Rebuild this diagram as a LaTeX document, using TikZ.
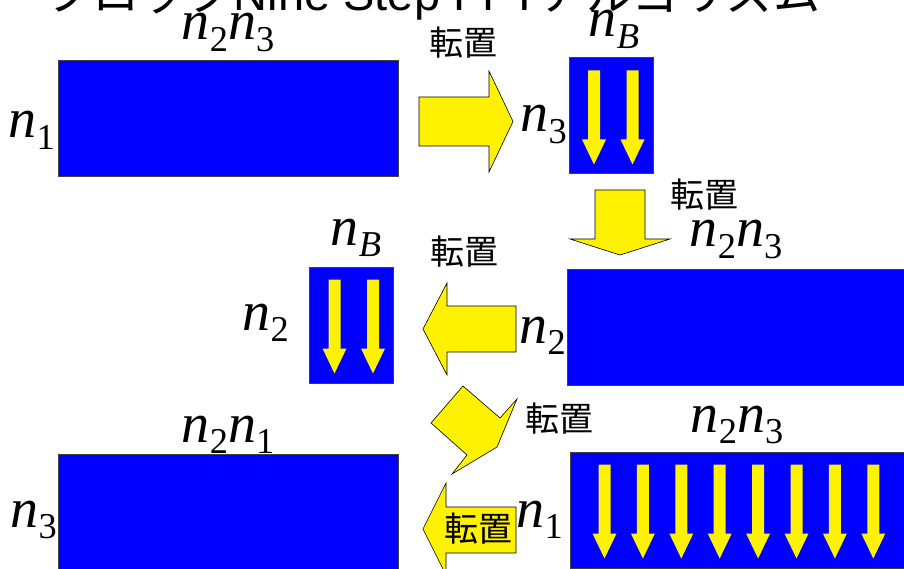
\documentclass[tikz,border=0pt]{standalone}
\usepackage{fontspec}
\setmainfont{Liberation Serif}
\newfontfamily\jpfont{Noto Sans CJK JP}
\newfontfamily\titlefont{Liberation Sans}
\usetikzlibrary{positioning}
\newcommand{\nsub}[1]{\textit{n}\raisebox{-0.21em}{\scalebox{0.65}{#1}}}
\tikzset{
  blkbox/.style={rectangle, draw=black!75, line width=1pt, fill=blue, inner sep=0pt,
                 minimum height=116pt},
  widebox/.style={blkbox, minimum width=340pt},
  narrowbox/.style={blkbox, minimum width=84pt},
  yarrow/.style={fill=yellow, draw=black, line width=0.6pt, line join=miter},
  dimlbl/.style={inner sep=0pt, font=\fontsize{56}{60}\selectfont},
  tplbl/.style={inner sep=0pt, font=\jpfont\fontsize{34}{40}\selectfont},
  colarrow/.pic={\fill[yellow] (-6,0) -- (6,0) -- (6,69) -- (12,69) -- (0,94) -- (-12,69) -- (-6,69) -- cycle;},
}
\begin{document}
\begin{tikzpicture}[x=1pt, y=-1pt]
  \path[use as bounding box] (0,0) rectangle (904,569);
  \clip (0,0) rectangle (904,569);
  \node[anchor=base, inner sep=0pt, font=\titlefont\fontsize{47}{50}\selectfont] (title) at (433,11)
    {{\jpfont ブロック}Nine Step FFT{\jpfont アルゴリズム}};
  \node[widebox]   (blkA) at (228,119)   {};
  \node[narrowbox] (blkB) at (611,116)   {};
  \node[widebox]   (blkC) at (737,327)   {};
  \node[narrowbox] (blkD) at (351.5,325) {};
  \node[widebox]   (blkE) at (740,510)   {};
  \node[widebox]   (blkF) at (228,512)   {};
  \foreach \dx in {25.5,64} {
    \pic at ([xshift=\dx pt, yshift=-13pt]blkB.north west) {colarrow};
    \pic at ([xshift=\dx pt, yshift=-13pt]blkD.north west) {colarrow};
  }
  \foreach \i in {0,...,7}
    \pic at ([xshift={35pt+38.4pt*\i}, yshift=-13pt]blkE.north west) {colarrow};
  \node[dimlbl, anchor=base]      (dimA) at (228,40)  {\nsub{2}\nsub{3}};
  \node[dimlbl, anchor=base east] (rowA) at (55,138)  {\nsub{1}};
  \node[dimlbl, anchor=base]      (dimB) at (614,37)  {\nsub{\textit{B}}};
  \node[dimlbl, anchor=base east] (rowB) at (567,132) {\nsub{3}};
  \node[dimlbl, anchor=base]      (dimC) at (736,247) {\nsub{2}\nsub{3}};
  \node[dimlbl, anchor=base east] (rowC) at (566,343) {\nsub{2}};
  \node[dimlbl, anchor=base]      (dimD) at (356,245) {\nsub{\textit{B}}};
  \node[dimlbl, anchor=base east] (rowD) at (289,330) {\nsub{2}};
  \node[dimlbl, anchor=base]      (dimE) at (737,432) {\nsub{2}\nsub{3}};
  \node[dimlbl, anchor=base east] (rowE) at (563,527) {\nsub{1}};
  \node[dimlbl, anchor=base]      (dimF) at (228,442) {\nsub{2}\nsub{1}};
  \node[dimlbl, anchor=base east] (rowF) at (57,527)  {\nsub{3}};
  \draw[yarrow] (419,97) -- (489,97) -- (489,71) -- (513,121.5) -- (489,172) -- (489,146) -- (419,146) -- cycle;
  \draw[yarrow] (595,190) -- (645,190) -- (645,239) -- (670,239) -- (620,255) -- (570,239) -- (595,239) -- cycle;
  \draw[yarrow] (516,306) -- (447,306) -- (447,283) -- (423,329) -- (447,375) -- (447,352) -- (516,352) -- cycle;
  \draw[yarrow] (463,386) -- (431,423) -- (467,455) -- (452,474) -- (497,447) -- (517,399) -- (500,418) -- cycle;
  \draw[yarrow] (516,507) -- (446,507) -- (446,483) -- (423,529) -- (446,575) -- (446,553) -- (516,553) -- cycle;
  \node[tplbl] (tpA) at (463,43)  {転置};
  \node[tplbl] (tpB) at (704,195) {転置};
  \node[tplbl] (tpC) at (464,252) {転置};
  \node[tplbl] (tpD) at (559,419) {転置};
  \node[tplbl, fill=yellow] (tpE) at (478,529) {転置};
\end{tikzpicture}
\end{document}
